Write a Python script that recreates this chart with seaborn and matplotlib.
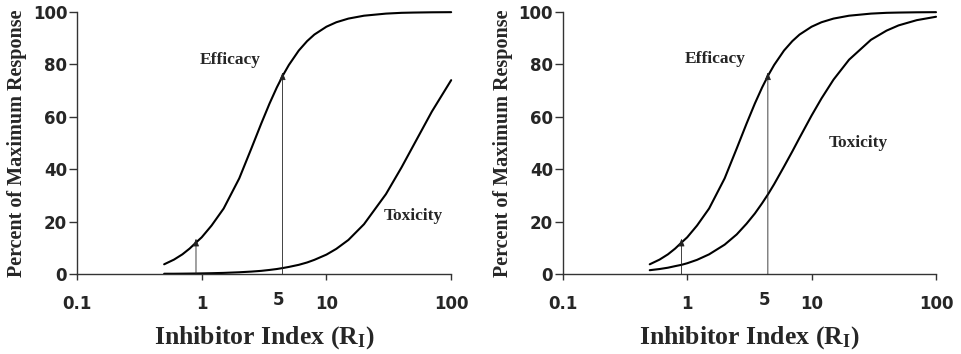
import matplotlib
matplotlib.use("Agg")
import matplotlib.pyplot as plt
import seaborn as sns
import pandas as pd

# ---- data ----
ri = [0.5, 0.6, 0.7, 0.8, 0.9, 1.0, 1.2, 1.5, 2, 2.5, 3, 3.5, 4, 4.5, 5,
      6, 7, 8, 10, 12, 15, 20, 30, 40, 50, 70, 100]

efficacy = [3.7, 5.5, 7.5, 9.7, 12.0, 14.0, 18.5, 25.0, 36.5, 47.9, 57.4, 65.1,
            71.2, 76.0, 79.8, 85.3, 88.9, 91.4, 94.4, 96.1, 97.5, 98.6, 99.4,
            99.7, 99.8, 99.9, 99.95]

toxicity_left = [0.1, 0.1, 0.13, 0.16, 0.19, 0.23, 0.3, 0.42, 0.66, 0.92, 1.2,
                 1.55, 1.9, 2.3, 2.7, 3.5, 4.4, 5.4, 7.4, 9.6, 13.0, 19.0, 30.5,
                 40.7, 49.2, 62.0, 74.0]

toxicity_right = [1.45, 1.9, 2.4, 3.0, 3.5, 4.1, 5.4, 7.5, 11.2, 15.1, 19.2,
                  23.1, 27.0, 30.7, 34.3, 41.0, 46.8, 52.0, 60.5, 67.0, 74.2,
                  81.8, 89.4, 92.9, 94.9, 96.9, 98.2]

x_ticks = [0.1, 1, 10, 100]
x_tick_labels = ["0.1", "1", "10", "100"]
y_ticks = [0, 20, 40, 60, 80, 100]

arrow_x = [0.9, 4.45]
arrow_y = [13.5, 77.0]
mark_pos = 4.15
mark_label = "5"

panels = [
    dict(tox=toxicity_left, eff_lbl=(1.69, 81.7), tox_lbl=(49.5, 22.1)),
    dict(tox=toxicity_right, eff_lbl=(1.67, 82.0), tox_lbl=(23.8, 50.1)),
]

sns.set_style("ticks")
plt.rcParams["font.family"] = ["DejaVu Sans"]
plt.rcParams["mathtext.fontset"] = "custom"
plt.rcParams["mathtext.rm"] = "Liberation Serif:bold"
plt.rcParams["mathtext.it"] = "Liberation Serif:bold"
plt.rcParams["mathtext.bf"] = "Liberation Serif:bold"

fig = plt.figure(figsize=(9.62, 3.54), dpi=100)
rects = [[0.080, 0.226, 0.389, 0.740], [0.585, 0.226, 0.388, 0.740]]

serif = ["Liberation Serif", "DejaVu Serif"]

for rect, p in zip(rects, panels):
    ax = fig.add_axes(rect)
    df = pd.DataFrame({"RI": ri * 2,
                       "resp": efficacy + p["tox"],
                       "curve": ["Efficacy"] * len(ri) + ["Toxicity"] * len(ri)})
    sns.lineplot(data=df, x="RI", y="resp", units="curve", estimator=None,
                 color="black", lw=1.5, ax=ax, legend=False)
    ax.set_xscale("log")
    ax.set_xlim(0.1, 100)
    ax.set_ylim(0, 100)
    ax.set_xticks(x_ticks)
    ax.set_xticklabels(x_tick_labels)
    ax.set_xticks([mark_pos], [mark_label], minor=True)
    ax.set_yticks(y_ticks)
    ax.tick_params(axis="y", which="major", length=6, width=1,
                   color="#333333", labelsize=12, pad=1)
    ax.tick_params(axis="x", which="major", length=4, width=1,
                   color="#333333", labelsize=12, pad=11)
    ax.tick_params(axis="x", which="minor", length=0, pad=12,
                   labelsize=12)
    for lab in ax.get_xticklabels(which="both") + ax.get_yticklabels():
        lab.set_fontweight("bold")
    for s in ["top", "right"]:
        ax.spines[s].set_visible(False)
    for s in ["left", "bottom"]:
        ax.spines[s].set_color("#333333")
        ax.spines[s].set_linewidth(1.0)
    for ln in ax.lines:
        ln.set_clip_on(False)

    for xa, ya in zip(arrow_x, arrow_y):
        ax.annotate("", xy=(xa, ya), xytext=(xa, 0),
                    arrowprops=dict(arrowstyle="-|>,head_length=0.45,head_width=0.18",
                                    color="#222222", lw=0.6, shrinkA=0, shrinkB=0))
    ax.text(*p["eff_lbl"], "Efficacy", ha="center", va="center",
            family=serif, fontweight="bold", fontsize=12.5)
    ax.text(*p["tox_lbl"], "Toxicity", ha="center", va="center",
            family=serif, fontweight="bold", fontsize=12.5)
    ax.set_xlabel("Inhibitor Index ($\\mathrm{R_I}$)", family=serif,
                  fontweight="bold", fontsize=18.5, labelpad=8.5)
    ax.set_ylabel("Percent of Maximum Response", family=serif,
                  fontweight="bold", fontsize=14.5, labelpad=4)

fig.savefig("out.png", dpi=100)
